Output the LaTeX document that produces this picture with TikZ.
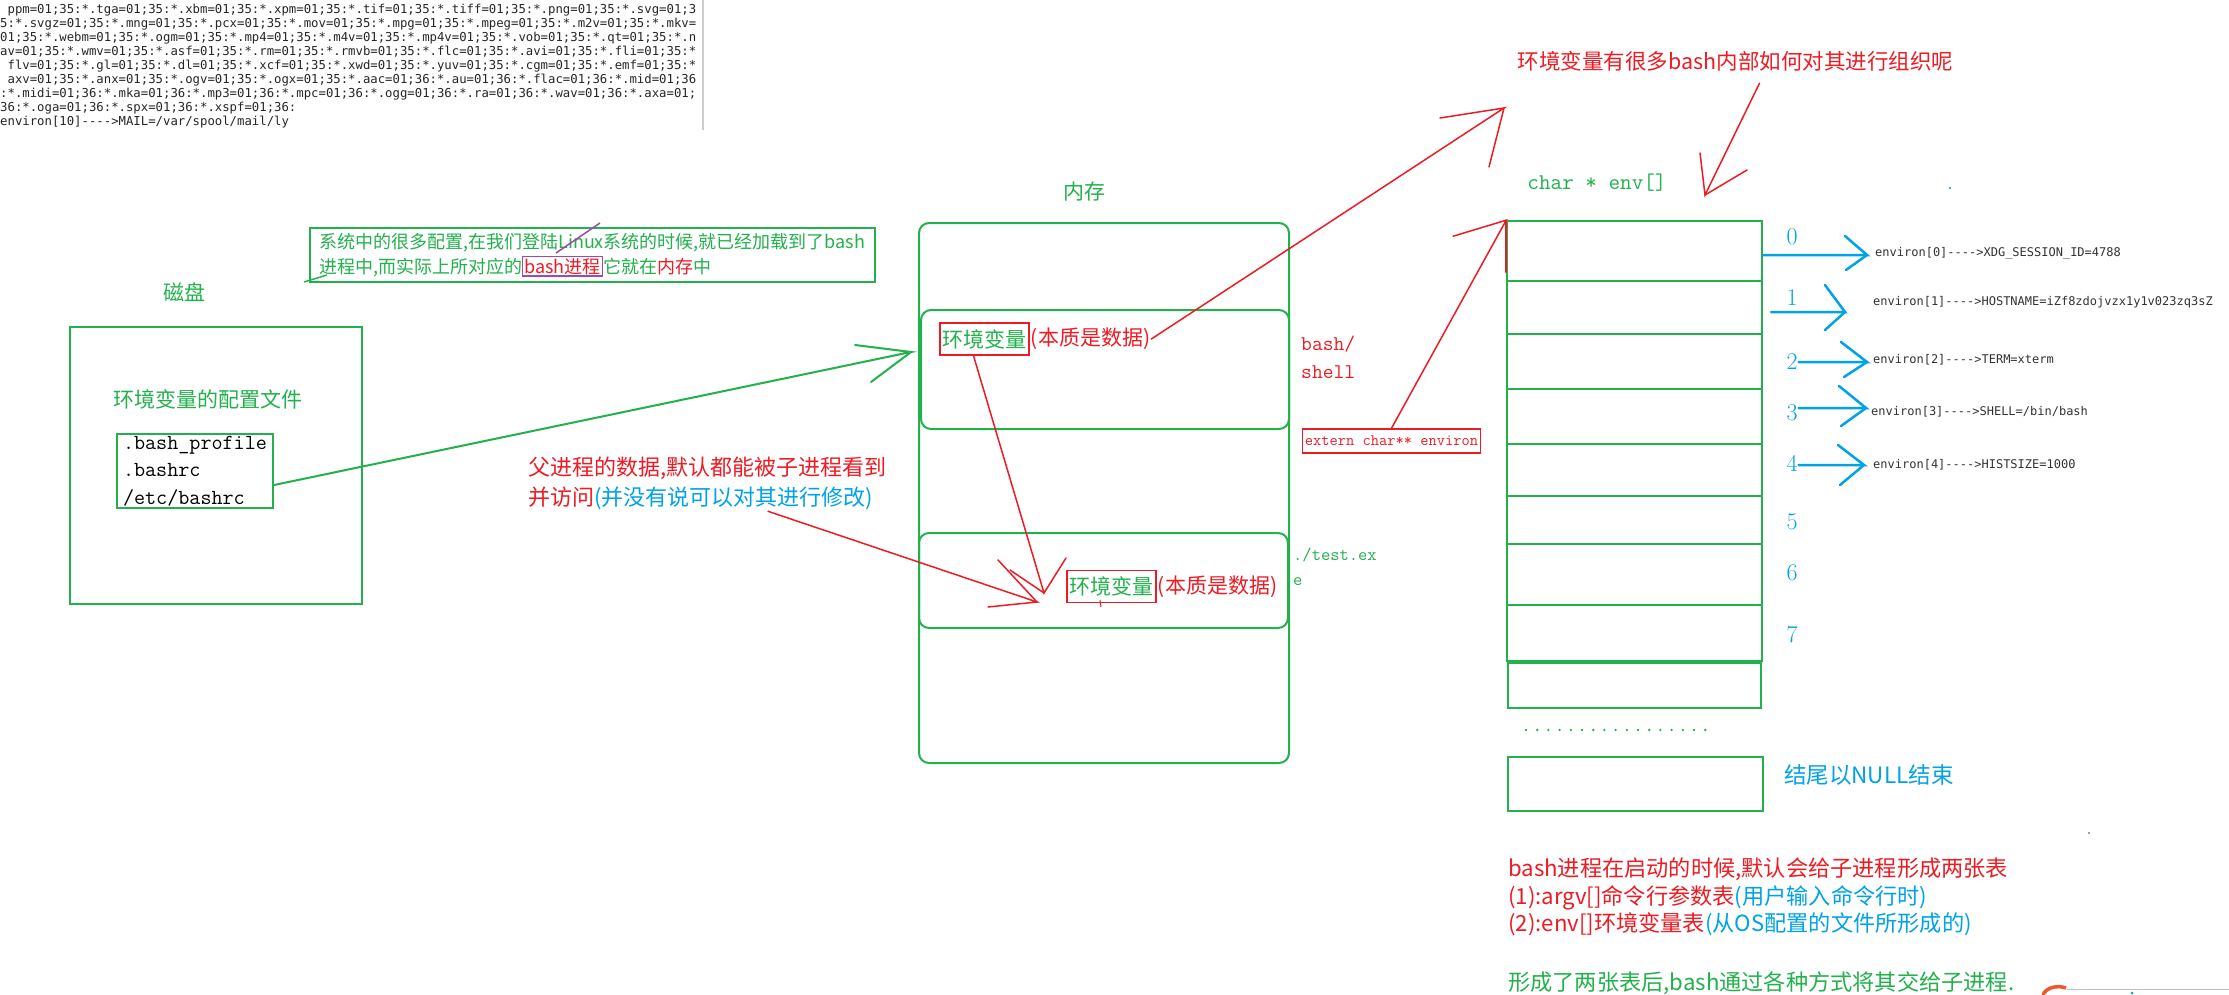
\documentclass[tikz,border=0pt]{standalone}
\usepackage{fontspec}
\newfontfamily\cjk{Noto Sans CJK SC}
\newfontfamily\termfont{DejaVu Sans Mono}[Ligatures=TeXOff]
\usepackage{tikz}
\usetikzlibrary{positioning}
\usetikzlibrary{matrix}
\definecolor{pgreen}{HTML}{22B14C}
\definecolor{pred}{HTML}{ED1C24}
\definecolor{pblue}{HTML}{00A2E8}
\definecolor{ppurple}{HTML}{A349A4}
\definecolor{plogo}{HTML}{F2572A}
\tikzset{
  box/.style={draw=pgreen, line width=2pt},
  membox/.style={box, rounded corners=10pt},
  cjktext/.style={font=\fontsize{21}{28}\selectfont\cjk, inner sep=1pt},
  monotext/.style={font=\fontsize{21}{28}\selectfont\ttfamily, inner sep=1pt, align=left},
  evtext/.style={font=\fontsize{12}{14}\selectfont\termfont, text=black!80, inner sep=1pt, anchor=west},
  digit/.style={font=\fontsize{24}{24}\selectfont, text=pblue, inner sep=1pt},
  redbox/.style={draw=pred, line width=1.5pt, inner xsep=2.5pt, minimum height=32pt},
  rline/.style={draw=pred, line width=1.5pt, line cap=round},
  gline/.style={draw=pgreen, line width=2pt, line cap=round},
  bline/.style={draw=pblue, line width=2.5pt, line cap=round}
}

\begin{document}
\begin{tikzpicture}[x=1pt, y=-1pt]
  \useasboundingbox (0,0) rectangle (2229,995);
  \fill[white] (0,0) rectangle (2229,995);

  \node[anchor=north west, inner sep=0pt, align=left, text=black!85,
    font=\fontsize{12.3}{14.1}\selectfont\termfont] (term) at (0,3.5)
    {\hphantom{.}ppm=01;35:*.tga=01;35:*.xbm=01;35:*.xpm=01;35:*.tif=01;35:*.tiff=01;35:*.png=01;35:*.svg=01;3\\
     5:*.svgz=01;35:*.mng=01;35:*.pcx=01;35:*.mov=01;35:*.mpg=01;35:*.mpeg=01;35:*.m2v=01;35:*.mkv=\\
     01;35:*.webm=01;35:*.ogm=01;35:*.mp4=01;35:*.m4v=01;35:*.mp4v=01;35:*.vob=01;35:*.qt=01;35:*.n\\
     av=01;35:*.wmv=01;35:*.asf=01;35:*.rm=01;35:*.rmvb=01;35:*.flc=01;35:*.avi=01;35:*.fli=01;35:*\\
     \hphantom{.}flv=01;35:*.gl=01;35:*.dl=01;35:*.xcf=01;35:*.xwd=01;35:*.yuv=01;35:*.cgm=01;35:*.emf=01;35:*\\
     \hphantom{.}axv=01;35:*.anx=01;35:*.ogv=01;35:*.ogx=01;35:*.aac=01;36:*.au=01;36:*.flac=01;36:*.mid=01;36\\
     :*.midi=01;36:*.mka=01;36:*.mp3=01;36:*.mpc=01;36:*.ogg=01;36:*.ra=01;36:*.wav=01;36:*.axa=01;\\
     36:*.oga=01;36:*.spx=01;36:*.xspf=01;36:\\
     environ[10]---->MAIL=/var/spool/mail/ly};
  \draw[gray!40, line width=1.5pt] (703,0) -- (703,130);

  \node[box, line width=1.5pt, anchor=north west, minimum width=565pt, minimum height=54pt,
    align=left, text=pgreen, inner sep=1pt, font=\fontsize{18}{25}\selectfont\cjk] (note) at (309,227)
    {系统中的很多配置,在我们登陆Linux系统的时候,就已经加载到了bash\\
     进程中,而实际上所对应的{\fboxsep=1pt\fboxrule=1.2pt\fcolorbox{ppurple}{white}{\textcolor{pred}{bash进程}}}它就在\textcolor{pred}{内存}中};
  \draw[ppurple, line width=1.5pt] (556,253) -- (600,223);
  \draw[pgreen, line width=1.5pt] (304,282) -- (327,275);

  \node[cjktext, text=pgreen] (disklabel) at (184,292) {磁盘};
  \node[box, minimum width=292pt, minimum height=277pt] (disk) at (216,465.5) {};
  \node[cjktext, text=pgreen] (cfgtitle) at (207.5,399) {环境变量的配置文件};
  \node[box, anchor=north west, align=left, inner xsep=6pt, inner ysep=2pt,
    font=\fontsize{21.5}{27.5}\selectfont\ttfamily] (files) at (116,433)
    {.bash\_profile\\.bashrc\\/etc/bashrc};

  \node[cjktext, text=pgreen] (memlabel) at (1084,192) {内存};
  \node[membox, minimum width=370pt, minimum height=540pt] (mem) at (1104,493) {};
  \node[membox, minimum width=368pt, minimum height=119pt] (bashbox) at (1105,369.5) {};
  \node[membox, minimum width=369pt, minimum height=95pt] (testbox) at (1103.5,580.5) {};

  \node[cjktext, redbox, text=pgreen] (envA) at (984.5,339) {环境变量};
  \node[cjktext, text=pred, right=0pt of envA] (dataA) {(本质是数据)};
  \node[cjktext, redbox, text=pgreen] (envB) at (1111.5,586.5) {环境变量};
  \node[cjktext, text=pred, right=0pt of envB] (dataB) {(本质是数据)};
  \draw[pred, line width=1pt] (1100,600) -- (1101,607);

  \node[monotext, text=pred, anchor=west] (shell) at (1300,357) {bash/\\shell};
  \node[monotext, text=pgreen, anchor=west, font=\fontsize{18}{25}\selectfont\ttfamily] (testlabel) at (1292,567) {./test.ex\\e};
  \node[redbox, text=pred, minimum height=24pt, font=\fontsize{16}{16}\selectfont\ttfamily] (extern) at (1391.5,441) {extern char** environ};

  \node[cjktext, text=pred, anchor=north west, align=left, font=\fontsize{22}{30}\selectfont\cjk] (parent) at (527,456)
    {父进程的数据,默认都能被子进程看到\\并访问\textcolor{pblue}{(并没有说可以对其进行修改)}};

  \draw[gline] ([yshift=-14pt]files.east) -- (911,352) coordinate (gtip) -- ++(-56,-7);
  \draw[gline] (gtip) -- ++(-40,30);

  \node[cjktext, text=pred, font=\fontsize{21.5}{28}\selectfont\cjk] (title) at (1735.5,61) {环境变量有很多bash内部如何对其进行组织呢};
  \node[monotext, text=pgreen, font=\fontsize{22.5}{28}\selectfont\ttfamily] (envname) at (1597,183) {char * env[]};

  \matrix (env) [matrix of nodes, nodes in empty cells, anchor=north west,
    row sep=-2pt, inner sep=0pt,
    nodes={draw=pgreen, line width=2pt, minimum width=255pt},
    row 1/.style={nodes={minimum height=60pt}},
    row 2/.style={nodes={minimum height=53pt}},
    row 3/.style={nodes={minimum height=55pt}},
    row 4/.style={nodes={minimum height=55pt}},
    row 5/.style={nodes={minimum height=52pt}},
    row 6/.style={nodes={minimum height=48pt}},
    row 7/.style={nodes={minimum height=61pt}},
    row 8/.style={nodes={minimum height=56pt}}] at (1506,220)
  {
    \\ \\ \\ \\ \\ \\ \\ \\
  };

  \node[box, minimum width=253pt, minimum height=45pt] (env8) at (1634.5,685.5) {};
  \foreach \k in {0,...,16}
    \fill[pgreen] (1526+11.2*\k,730) circle (1.3pt);
  \node[box, minimum width=255pt, minimum height=54pt] (envnull) at (1635.5,784) {};
  \node[cjktext, text=pblue, anchor=west, font=\fontsize{22.5}{28}\selectfont\cjk] (nulltext) at (1783,775) {结尾以NULL结束};

  \foreach \k/\yy in {0/237,1/298,2/362,3/413,4/463,5/522,6/573,7/635}
    \node[digit] (i\k) at (1792,\yy) {\k};

  \node[evtext] (ev0) at (1874,253) {environ[0]---->XDG\_SESSION\_ID=4788};
  \node[evtext] (ev1) at (1872,302) {environ[1]---->HOSTNAME=iZf8zdojvzx1y1v023zq3sZ};
  \node[evtext] (ev2) at (1872,360) {environ[2]---->TERM=xterm};
  \node[evtext] (ev3) at (1870,412) {environ[3]---->SHELL=/bin/bash};
  \node[evtext] (ev4) at (1872,465) {environ[4]---->HISTSIZE=1000};

  \coordinate (t0) at (1867,255);
  \coordinate (t1) at (1845,312);
  \coordinate (s1) at (1771,312);
  \coordinate (t2) at (1867,362);
  \coordinate (t3) at (1866,408);
  \coordinate (t4) at (1864,465);
  \draw[bline] (env-1-1.east |- t0) -- (t0) -- ++(-22,-19);
  \draw[bline] (t0) -- ++(-21,15);
  \draw[bline] (s1) -- (t1) -- ++(-20,-27);
  \draw[bline] (t1) -- ++(-20,18);
  \draw[bline] (i2.east |- t2) -- (t2) -- ++(-26,-20);
  \draw[bline] (t2) -- ++(-23,15);
  \draw[bline] (i3.east |- t3) -- (t3) -- ++(-27,-22);
  \draw[bline] (t3) -- ++(-25,18);
  \draw[bline] (i4.east |- t4) -- (t4) -- ++(-26,-20);
  \draw[bline] (t4) -- ++(-24,20);

  \coordinate (tipA) at (1044,593);
  \coordinate (tipB) at (1037,602);
  \coordinate (tipC) at (1504,108);
  \coordinate (tipE) at (1705,195);
  \draw[rline] ([xshift=-11pt]envA.south) -- (tipA) -- ++(22,-35);
  \draw[rline] (tipA) -- ++(-34,-23);
  \draw[rline] ([xshift=241pt]parent.south west) -- (tipB) -- ++(-49,5);
  \draw[rline] (tipB) -- ++(-39,-42);
  \draw[rline] (dataA.east) -- (tipC) -- ++(-64,10);
  \draw[rline] (tipC) -- ++(-15,59);
  \draw[rline] (extern.north) -- (env-1-1.north west) -- ++(-53,16);
  \draw[rline] (env-1-1.north west) -- ++(0,52);
  \draw[rline] ([shift={(24pt,-11pt)}]title.south) -- (tipE) -- ++(-5,-42);
  \draw[rline] (tipE) -- ++(42,-25);

  \node[cjktext, text=pred, anchor=north west, align=left, font=\fontsize{22.2}{27.5}\selectfont\cjk] (summary) at (1507,857)
    {bash进程在启动的时候,默认会给子进程形成两张表\\
     (1):argv[]命令行参数表\textcolor{pblue}{(用户输入命令行时)}\\
     (2):env[]环境变量表\textcolor{pblue}{(从OS配置的文件所形成的)}};
  \node[cjktext, text=pgreen, anchor=west, font=\fontsize{22.2}{27.5}\selectfont\cjk] (handover) at (1507,983)
    {形成了两张表后,bash通过各种方式将其交给子进程.};

  \fill[pblue] (1950,188) circle (1.2pt);
  \fill[gray] (2089,833) circle (1.2pt);
  \draw[gray!50] (2067,989) -- (2229,989);
  \fill[pblue] (2132,993) circle (1.5pt);
  \draw[plogo, line width=3.5pt] (2043,995) .. controls (2046,987) and (2058,985) .. (2066,988);
\end{tikzpicture}
\end{document}
